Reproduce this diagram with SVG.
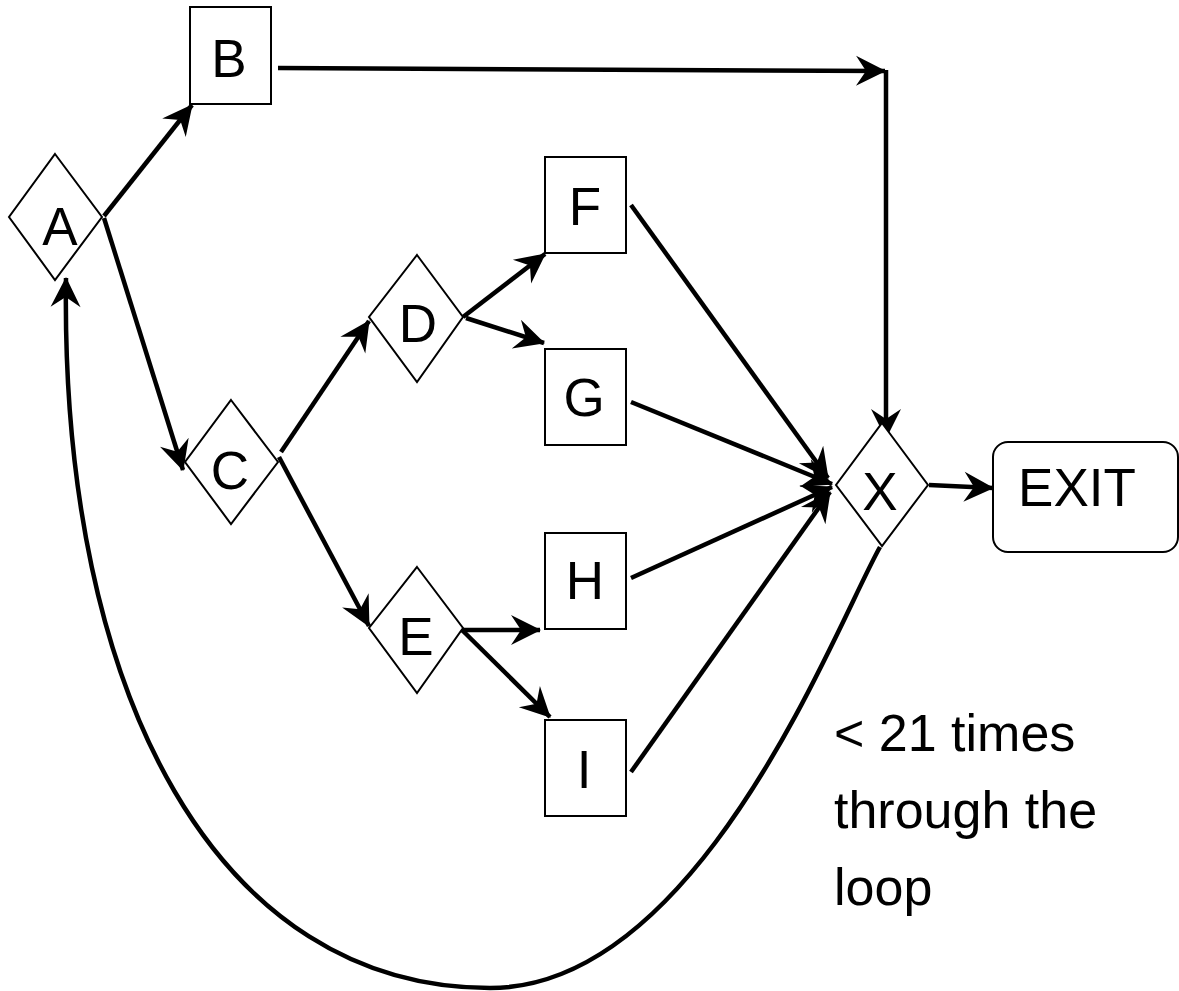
<svg xmlns="http://www.w3.org/2000/svg" width="1179" height="991" viewBox="0 0 1179 991">
<style>
.n{fill:#fff;stroke:#000;stroke-width:2}
.t{font-family:"Liberation Sans",Arial,sans-serif;font-size:53px;fill:#000;text-anchor:middle}
.a{font-family:"Liberation Sans",Arial,sans-serif;font-size:52px;fill:#000}
.e{fill:none;stroke:#000;stroke-width:4.5}
</style>
<defs>
<marker id="ar" markerUnits="userSpaceOnUse" markerWidth="32" markerHeight="32" refX="29" refY="15" orient="auto" overflow="visible">
<path d="M0,0 L30,15 L0,30 L10,15 Z" fill="#000"/>
</marker>
</defs>
<rect width="1179" height="991" fill="#fff"/>
<g id="connectors">
<path class="e" d="M104,216 L192,105" marker-end="url(#ar)"/>
<path class="e" d="M104,218 L183,470" marker-end="url(#ar)"/>
<path class="e" d="M278,68 L885,71" marker-end="url(#ar)"/>
<path class="e" d="M886,70 L886,438" marker-end="url(#ar)"/>
<path class="e" d="M281,452 L369,321" marker-end="url(#ar)"/>
<path class="e" d="M279,457 L369,626" marker-end="url(#ar)"/>
<path class="e" d="M463,317 L545,254" marker-end="url(#ar)"/>
<path class="e" d="M466,318 L544,343" marker-end="url(#ar)"/>
<path class="e" d="M457,630 L540,630" marker-end="url(#ar)"/>
<path class="e" d="M462,630 L550,717" marker-end="url(#ar)"/>
<path class="e" d="M631,205 L828,478" marker-end="url(#ar)"/>
<path class="e" d="M631,402 L832,484" marker-end="url(#ar)"/>
<path class="e" d="M631,578 L832,487" marker-end="url(#ar)"/>
<path class="e" d="M631,772 L830,492" marker-end="url(#ar)"/>
<path class="e" d="M929,485 L993,488" marker-end="url(#ar)"/>
<path class="e" d="M880,547 C835,627 700,988 490,988 C220,988 60,700 66,278" marker-end="url(#ar)"/>
</g>
<g id="A"><polygon class="n" points="55,154 102,217 55,280 9,217"/><text class="t" x="60" y="245">A</text></g>
<g id="B"><rect class="n" x="190" y="7" width="81" height="97"/><text class="t" x="229" y="77">B</text></g>
<g id="C"><polygon class="n" points="231,400 278,462 231,524 185,462"/><text class="t" x="230" y="489">C</text></g>
<g id="D"><polygon class="n" points="417,255 463,317 417,382 369,317"/><text class="t" x="418" y="342">D</text></g>
<g id="E"><polygon class="n" points="417,567 463,628 417,693 369,628"/><text class="t" x="416" y="655">E</text></g>
<g id="F"><rect class="n" x="545" y="157" width="81" height="96"/><text class="t" x="585" y="225">F</text></g>
<g id="G"><rect class="n" x="545" y="349" width="81" height="96"/><text class="t" x="584" y="416">G</text></g>
<g id="H"><rect class="n" x="545" y="533" width="81" height="96"/><text class="t" x="585" y="599">H</text></g>
<g id="I"><rect class="n" x="545" y="720" width="81" height="96"/><text class="t" x="584" y="788">I</text></g>
<g id="X"><polygon class="n" points="882,423 928,485 882,546 836,485"/><text class="t" x="880" y="510">X</text></g>
<g id="EXIT"><rect class="n" x="993" y="442" width="185" height="110" rx="15" ry="15"/><text class="t" x="1077" y="506">EXIT</text></g>
<g id="note">
<text class="a" x="834" y="751">&lt; 21 times</text>
<text class="a" x="834" y="828">through the</text>
<text class="a" x="834" y="905">loop</text>
</g>
</svg>
